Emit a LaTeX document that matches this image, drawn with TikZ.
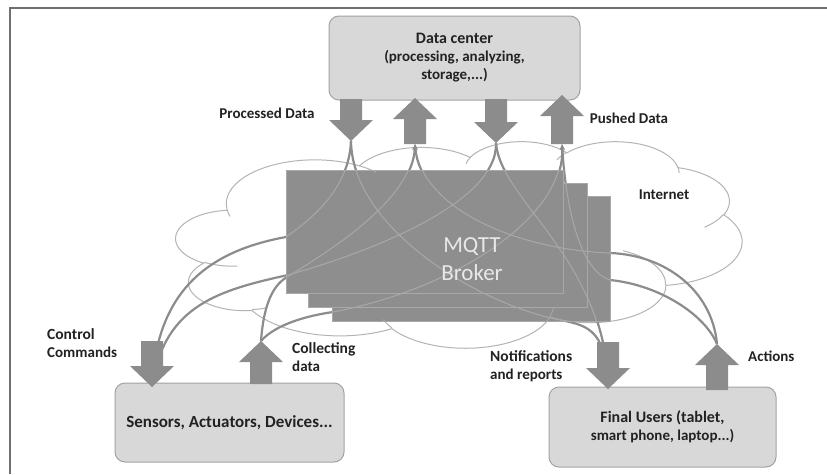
\documentclass[tikz,border=0pt]{standalone}
\usepackage{fontspec}
\setmainfont{Carlito}
\usetikzlibrary{arrows.meta}

\definecolor{linkgray}{HTML}{8C8C8C}
\definecolor{brokergray}{HTML}{8E8E8E}
\definecolor{boxgray}{HTML}{D8D8D8}
\definecolor{boxedge}{HTML}{A3A3A3}
\definecolor{textdark}{HTML}{222222}
\definecolor{cloudgray}{HTML}{B4B4B4}
\definecolor{innerline}{HTML}{A8A8A8}
\definecolor{framegray}{HTML}{707070}

% angles of an Office-style arcTo (view angles) turned into parametric ones
\newcommand\cloudangles[4]{%
  \pgfmathsetmacro\ctA{atan2((#1)*sin(#3),(#2)*cos(#3))}%
  \pgfmathsetmacro\ctB{atan2((#1)*sin((#3)+(#4)),(#2)*cos((#3)+(#4)))}%
  \pgfmathsetmacro\ctD{\ctB-\ctA}%
  \pgfmathsetmacro\ctD{(#4)>0 ? (\ctD<0 ? \ctD+360 : \ctD) : (\ctD>0 ? \ctD-360 : \ctD)}%
  \global\let\cloudst\ctA \global\let\clouddt\ctD}
\newcommand\cloudarc[4]{\pgfextra{\cloudangles{#1}{#2}{#3}{#4}} arc[start angle=\cloudst, delta angle=\clouddt, x radius=#1, y radius=#2]}

% the cloud outline with its inner hooks
\newcommand\cloudshape[1]{%
  \begin{scope}[shift={(176,141)}, xscale=1.31, yscale=0.478]
    \draw[#1] (39,143.7)
      \cloudarc{67.53}{91.90}{-190.48748}{123.78053}
      \cloudarc{53.33}{72.67}{-144.10238}{89.94523}
      \cloudarc{43.65}{59.45}{-145.80792}{99.72302}
      \cloudarc{48.57}{65.95}{-130.98607}{117.24173}
      \cloudarc{53.33}{72.73}{-78.70888}{109.02692}
      \cloudarc{67.75}{92.20}{-46.26725}{130.269}
      \cloudarc{57.85}{78.67}{0.62502}{114.03333}
      \cloudarc{67.52}{92.15}{22.4516}{115.17255}
      \cloudarc{77.20}{105.43}{66.24263}{75.71102}
      \cloudarc{43.60}{59.18}{-274.94208}{146.73557}
      \cloudarc{43.45}{59.45}{-246.8285}{152.51885} -- cycle;
    \draw[#1]
      (46.93,261.77) \cloudarc{43.45}{59.45}{86.742}{26.4295}
      (69.28,348.99) \cloudarc{43.60}{59.18}{73.61047}{11.44747}
      (164.78,390.90) \cloudarc{67.52}{92.15}{137.62415}{14.0811}
      (288.27,347.51) \cloudarc{67.52}{92.15}{6.45327}{15.99835}
      (341.29,229.54) \cloudarc{57.85}{78.67}{-70.29235}{70.91737}
      (417.98,153.54) \cloudarc{53.33}{72.73}{30.31803}{27.7515}
      (383.24,54.26) \cloudarc{48.57}{65.95}{-13.74433}{14.8589}
      (290.78,39.52) \cloudarc{48.57}{65.95}{-149.18145}{18.19537}
      (221.41,47.20) \cloudarc{43.65}{59.45}{-163.49427}{17.68635}
      (140.00,51.92) \cloudarc{67.53}{91.90}{-66.70695}{12.31935}
      (41.27,157.89) \cloudarc{67.53}{91.90}{157.65435}{11.85817};
  \end{scope}}

% block arrows: name, centre x, top y, tip/bottom y
\newcommand\blkdown[4]{%
  \fill[blockarrow] (#2-11,#3) -- (#2+11,#3) -- (#2+11,#4-21) -- (#2+22,#4-21)
    -- (#2,#4) -- (#2-22,#4-21) -- (#2-11,#4-21) -- cycle;
  \coordinate (#1) at (#2,#4);}
\newcommand\blkup[4]{%
  \fill[blockarrow] (#2,#3) -- (#2+22,#3+21) -- (#2+11,#3+21) -- (#2+11,#4)
    -- (#2-11,#4) -- (#2-11,#3+21) -- (#2-22,#3+21) -- cycle;
  \coordinate (#1t) at (#2,#3);
  \coordinate (#1b) at (#2,#4);}

% the eight message routes through the broker
\newcommand\linkset[1]{%
  \draw[#1] (pdTip) .. controls (349,190) and (310,220) .. (286,237)
    .. controls (215,250) and (158,285) .. (ccTop);
  \draw[#1] (arTip) .. controls (498,205) and (360,255) .. (288,275)
    .. controls (220,290) and (165,305) .. (ccTop);
  \draw[#1] (pdTip) .. controls (352,225) and (470,300) .. (555,319)
    .. controls (585,325) and (606,326) .. (nfTop);
  \draw[#1] (arTip) .. controls (500,200) and (606,260) .. (nfTop);
  \draw[#1] (cdt) .. controls (264,300) and (275,283) .. (289,276)
    .. controls (330,250) and (413,200) .. (upb);
  \draw[#1] (cdt) .. controls (275,325) and (305,316) .. (333,312)
    .. controls (450,290) and (566,220) .. (psb);
  \draw[#1] (act) .. controls (712,290) and (665,255) .. (610,253)
    .. controls (520,250) and (420,210) .. (upb);
  \draw[#1] (act) .. controls (705,315) and (660,285) .. (610,280)
    .. controls (580,270) and (566,210) .. (psb);}

\begin{document}
\begin{tikzpicture}[x=1pt,y=-1pt,
  font=\bfseries\fontsize{15}{18}\selectfont,
  infobox/.style={draw=boxedge, fill=boxgray, line width=1pt, rounded corners=10pt,
    text=textdark, align=center, inner sep=0pt},
  lbl/.style={text=textdark, inner sep=0pt},
  blockarrow/.style={fill=linkgray},
  link/.style={draw=linkgray, line width=2.2pt, -{Stealth[length=6pt,width=5pt]}},
  innerlink/.style={draw=innerline, line width=1pt},
  cloudline/.style={draw=cloudgray, line width=1pt},
  cloudinner/.style={draw=innerline, line width=0.8pt},
  brokerbox/.style={fill=brokergray, draw=innerline, line width=0.6pt, inner sep=0pt}]
\useasboundingbox (0,0) rectangle (827,474);
\fill[white] (0,0) rectangle (827,474);

% page frame
\draw[draw=framegray, line width=1.5pt] (10,474) -- (10,8) -- (827,8);

% end points
\node[infobox, minimum width=251pt, minimum height=84pt] (dc) at (454.5,58)
  {\fontsize{16}{22}\selectfont Data center\\(processing, analyzing,\\storage,...)};
\node[infobox, minimum width=229pt, minimum height=79pt] (sens) at (229.5,422.5)
  {\fontsize{17}{20}\selectfont Sensors, Actuators, Devices...};
\node[infobox, minimum width=227pt, minimum height=80pt] (users) at (662.5,427)
  {\fontsize{16}{19.5}\selectfont Final Users (tablet,\\smart phone, laptop...)};

% block arrows
\blkdown{pdTip}{351}{99}{141}
\blkup{up}{415}{98}{144}
\blkdown{arTip}{496}{99}{143}
\blkup{ps}{562}{95}{144}
\blkdown{ccTop}{152}{341}{387}
\blkup{cd}{261}{341}{384}
\blkdown{nfTop}{608}{342}{389}
\blkup{ac}{717}{344}{390}

% internet cloud and routes
\cloudshape{cloudline}
\linkset{link}

% broker stack
\node[brokerbox, minimum width=278pt, minimum height=125pt] (brk3) at (471,258.5) {};
\node[brokerbox, minimum width=279pt, minimum height=124pt] (brk2) at (447.5,245) {};
\node[brokerbox, minimum width=277pt, minimum height=123pt] (brk1) at (424.5,231.5) {};
\begin{scope}
  \clip (286,170) rectangle (563,293) (308,183) rectangle (587,307) (332,196) rectangle (610,321);
  \cloudshape{cloudinner}
  \linkset{innerlink}
\end{scope}
\node[text=white!91!black, align=center, font=\fontsize{23}{28}\selectfont] (mqtt) at (472,259)
  {MQTT\\Broker};

% labels
\node[lbl] (lpd) at (267,113) {Processed Data};
\node[lbl] (lps) at (629,118) {Pushed Data};
\node[lbl] (lnet) at (664,195) {Internet};
\node[lbl, anchor=west, align=left] (lcc) at (47,343) {\fontsize{15.5}{18}\selectfont Control\\Commands};
\node[lbl, anchor=west, align=left] (lcd) at (292,357) {\fontsize{15.5}{17.5}\selectfont Collecting\\data};
\node[lbl, anchor=west, align=left] (lnf) at (490,366) {\fontsize{15.5}{19}\selectfont Notifications\\and reports};
\node[lbl, anchor=west] (lac) at (748,356) {Actions};
\end{tikzpicture}
\end{document}
